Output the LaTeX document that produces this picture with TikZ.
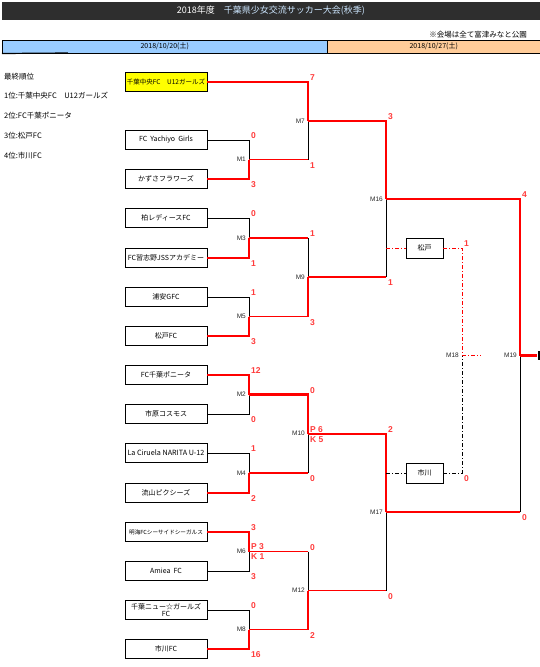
\documentclass[tikz,border=0pt]{standalone}
\usepackage{fontspec}
\setmainfont{Noto Sans CJK JP}
\newfontfamily\latinfont{Liberation Sans}
\usetikzlibrary{positioning}
\definecolor{headbar}{HTML}{2E2E2E}
\definecolor{titleblue}{HTML}{CCE6FF}
\definecolor{dayone}{HTML}{99CCFF}
\definecolor{daytwo}{HTML}{FFCC99}
\definecolor{seedyellow}{HTML}{FFFF00}
\definecolor{pathred}{HTML}{FF0000}
\definecolor{scorered}{HTML}{FF3B3B}

\begin{document}
\begin{tikzpicture}[
    x=1pt, y=-1pt,
    team/.style={draw, line width=0.8pt, minimum width=82pt, minimum height=19pt,
                 inner sep=0pt, align=center, font=\fontsize{7}{8}\selectfont},
    thirdbox/.style={team, minimum width=37pt, minimum height=20pt},
    win/.style={draw=pathred, line width=2.4pt},
    lose/.style={draw=pathred, line width=1.1pt},
    plain/.style={draw=black, line width=0.9pt},
    dashred/.style={draw=pathred, line width=0.9pt, dash pattern=on 4pt off 2pt on 1pt off 2pt},
    dashblack/.style={draw=black, line width=0.9pt, dash pattern=on 4pt off 2pt on 1pt off 2pt},
    score/.style={text=scorered, inner sep=0pt, font=\latinfont\bfseries\fontsize{8.5}{9}\selectfont},
    stop/.style={score, anchor=south west},
    sbot/.style={score, anchor=north west},
    mlabel/.style={text=black!85, inner sep=0pt, anchor=east, font=\latinfont\fontsize{6.5}{7}\selectfont},
    rank/.style={inner sep=0pt, anchor=west, font=\fontsize{7.5}{8}\selectfont},
]
\useasboundingbox (0,0) rectangle (540,667);

% === HEADER ===
\node[fill=headbar, minimum width=538pt, minimum height=18pt, inner sep=0pt,
      font=\fontsize{9}{10}\selectfont] (head) at (271,11)
    {\textcolor{white}{2018年度}\quad\textcolor{titleblue}{千葉県少女交流サッカー大会(秋季)}};
\node[inner sep=0pt, anchor=east, font=\fontsize{7.5}{8}\selectfont] (venue) at (527,34.5)
    {※会場は全て富津みなと公園};
\node[draw, line width=0.5pt, fill=dayone, minimum width=325pt, minimum height=13pt,
      inner sep=0pt, anchor=north west, font=\fontsize{7}{8}\selectfont] (day1) at (2,40)
    {2018/10/20(土)};
\node[draw, line width=0.5pt, fill=daytwo, minimum width=213pt, minimum height=13pt,
      inner sep=0pt, anchor=north west, font=\fontsize{7}{8}\selectfont] (day2) at (327,40)
    {2018/10/27(土)};
\coordinate (dayedge) at (68,53);
\draw[line width=1.2pt] (day1.south west) -- (dayedge);

% === FINAL STANDINGS ===
\node[rank] (rank0) at (4,77) {最終順位};
\node[rank] (rank1) at (4,96) {1位:千葉中央FC　U12ガールズ};
\node[rank] (rank2) at (4,116) {2位:FC千葉ポニータ};
\node[rank] (rank3) at (4,136) {3位:松戸FC};
\node[rank] (rank4) at (4,156) {4位:市川FC};

% === TEAMS ===
\node[team, fill=seedyellow, font=\fontsize{6.5}{7}\selectfont] (tm-chuo) at (166,82) {千葉中央FC　U12ガールズ};
\node[team] (tm-yachiyo) at (166,140) {FC\ \ Yachiyo\ \ Girls};
\node[team] (tm-kazusa) at (166,179) {かずさフラワーズ};
\node[team] (tm-kashiwa) at (166,218) {柏レディースFC};
\node[team] (tm-narashino) at (166,258) {FC習志野JSSアカデミー};
\node[team] (tm-urayasu) at (166,297) {浦安GFC};
\node[team] (tm-matsudo) at (166,336) {松戸FC};
\node[team] (tm-ponita) at (166,375) {FC千葉ポニータ};
\node[team] (tm-ichihara) at (166,414) {市原コスモス};
\node[team, font=\fontsize{7.2}{8}\selectfont] (tm-ciruela) at (166,453) {La Ciruela NARITA U-12};
\node[team] (tm-nagareyama) at (166,493) {流山ピクシーズ};
\node[team, font=\fontsize{5.6}{6}\selectfont] (tm-akemi) at (166,532) {明海FCシーサイドシーガルス};
\node[team] (tm-amiea) at (166,571) {Amiea\ \ FC};
\node[team, font=\fontsize{7}{7.6}\selectfont] (tm-new) at (166,610) {千葉ニュー☆ガールズ\\FC};
\node[team] (tm-ichikawa) at (166,649) {市川FC};

% === JUNCTIONS ===
\coordinate (m1) at (249,159.5);
\coordinate (m3) at (249,238);
\coordinate (m5) at (249,316.5);
\coordinate (m2) at (249,394.5);
\coordinate (m4) at (249,473);
\coordinate (m6) at (249,551.5);
\coordinate (m8) at (249,629.5);
\coordinate (m7) at (308,121);
\coordinate (m9) at (308,277);
\coordinate (m10) at (308,433.75);
\coordinate (m12) at (308,590.5);
\coordinate (m16) at (386,199);
\coordinate (m17) at (386,512);
\coordinate (m18) at (462,355.5);
\coordinate (m19) at (520,355.5);

% === FIRST ROUND ===
\draw[plain] (tm-yachiyo) -| (m1);
\draw[win] (tm-kazusa) -| (m1);
\draw[plain] (tm-kashiwa) -| (m3);
\draw[win] (tm-narashino) -| (m3);
\draw[plain] (tm-urayasu) -| (m5);
\draw[lose] (tm-matsudo) -| (m5);
\draw[plain] (tm-ichihara) -| (m2);
\draw[lose] (tm-ponita) -| (m2);
\draw[plain] (tm-ciruela) -| (m4);
\draw[win] (tm-nagareyama) -| (m4);
\draw[plain] (tm-amiea) -| (m6);
\draw[win] (tm-akemi) -| (m6);
\draw[plain] (tm-new) -| (m8);
\draw[lose] (tm-ichikawa) -| (m8);

% === SECOND ROUND ===
\draw[plain] (m1 -| m7) -- (m7);
\draw[lose] (m1) -- (m1 -| m7);
\draw[win] (tm-chuo) -| (m7);

\draw[plain] (m3 -| m9) -- (m9);
\draw[lose] (m3) -- (m3 -| m9);
\draw[lose] (m5) -- (m5 -| m9);
\draw[win] (m5 -| m9) -- (m9);

\draw[plain] (m4 -| m10) -- (m10);
\draw[lose] (m4) -- (m4 -| m10);
\draw[win] (m2) -| (m10);

\draw[plain] (m6 -| m12) -- (m12);
\draw[lose] (m6) -- (m6 -| m12);
\draw[lose] (m8) -- (m8 -| m12);
\draw[win] (m8 -| m12) -- (m12);

% === SEMI FINALS ===
\draw[plain] (m9 -| m16) -- (m16);
\draw[lose] (m9) -- (m9 -| m16);
\draw[win] (m7) -| (m16);

\draw[plain] (m12 -| m17) -- (m17);
\draw[lose] (m12) -- (m12 -| m17);
\draw[win] (m10) -| (m17);

% === THIRD PLACE ===
\node[thirdbox] (third-matsudo) at (424.5,248) {松戸};
\node[thirdbox] (third-ichikawa) at (424.5,473) {市川};
\coordinate (m18out) at (481,355.5);
\draw[dashblack] (m17 |- third-ichikawa) -- (third-ichikawa);
\draw[dashblack] (third-ichikawa) -| (m18);
\draw[dashred] (m16 |- third-matsudo) -- (third-matsudo);
\draw[dashred] (third-matsudo) -| (m18);
\draw[dashred] (m18) -- (m18out);

% === FINAL ===
\coordinate (champ) at (537,355.5);
\coordinate (edge-a) at (538.8,351);
\coordinate (edge-b) at (538.8,360);
\draw[plain] (m17 -| m19) -- (m19);
\draw[lose] (m17) -- (m17 -| m19);
\draw[lose] (m16) -| (m19);
\draw[win] (m19) -- (champ);
\draw[line width=1.6pt] (edge-a) -- (edge-b);

% === MATCH LABELS ===
\node[mlabel] (lab-m1) at (246,159.5) {M1};
\node[mlabel] (lab-m3) at (246,238) {M3};
\node[mlabel] (lab-m5) at (246,316.5) {M5};
\node[mlabel] (lab-m2) at (246,394.5) {M2};
\node[mlabel] (lab-m4) at (246,473) {M4};
\node[mlabel] (lab-m6) at (246,551.5) {M6};
\node[mlabel] (lab-m8) at (246,629.5) {M8};
\node[mlabel] (lab-m7) at (305,121) {M7};
\node[mlabel] (lab-m9) at (305,277) {M9};
\node[mlabel] (lab-m10) at (305,433.75) {M10};
\node[mlabel] (lab-m12) at (305,590.5) {M12};
\node[mlabel] (lab-m16) at (383,199) {M16};
\node[mlabel] (lab-m17) at (383,512) {M17};
\node[mlabel] (lab-m18) at (459,355.5) {M18};
\node[mlabel] (lab-m19) at (517,355.5) {M19};

% === SCORES ===
\node[stop] (sc-m1a) at (251,139) {0};
\node[sbot] (sc-m1b) at (251,181.5) {3};
\node[stop] (sc-m3a) at (251,217) {0};
\node[sbot] (sc-m3b) at (251,260.5) {1};
\node[stop] (sc-m5a) at (251,296) {1};
\node[sbot] (sc-m5b) at (251,338.5) {3};
\node[stop] (sc-m2a) at (251,374) {12};
\node[sbot] (sc-m2b) at (251,416.5) {0};
\node[stop] (sc-m4a) at (251,452) {1};
\node[sbot] (sc-m4b) at (251,495.5) {2};
\node[stop] (sc-m6a) at (251,531) {3};
\node[sbot] (sc-m6b) at (251,573.5) {3};
\node[stop] (sc-m6p) at (251,549.5) {P 3};
\node[sbot] (sc-m6k) at (251,553) {K 1};
\node[stop] (sc-m8a) at (251,609) {0};
\node[sbot] (sc-m8b) at (251,651.5) {16};

\node[stop] (sc-m7a) at (310,81) {7};
\node[sbot] (sc-m7b) at (310,162) {1};
\node[stop] (sc-m9a) at (310,237) {1};
\node[sbot] (sc-m9b) at (310,319) {3};
\node[stop] (sc-m10a) at (310,393.5) {0};
\node[sbot] (sc-m10b) at (310,475.5) {0};
\node[stop] (sc-m10p) at (310,432.3) {P 6};
\node[sbot] (sc-m10k) at (310,436) {K 5};
\node[stop] (sc-m12a) at (310,550.5) {0};
\node[sbot] (sc-m12b) at (310,632) {2};

\node[stop] (sc-m16a) at (388,120) {3};
\node[sbot] (sc-m16b) at (388,279.5) {1};
\node[stop] (sc-m17a) at (388,432.75) {2};
\node[sbot] (sc-m17b) at (388,593) {0};
\node[stop] (sc-m18a) at (464,246.5) {1};
\node[sbot] (sc-m18b) at (464,475.5) {0};
\node[stop] (sc-m19a) at (522,198) {4};
\node[sbot] (sc-m19b) at (522,514.5) {0};

\end{tikzpicture}
\end{document}
